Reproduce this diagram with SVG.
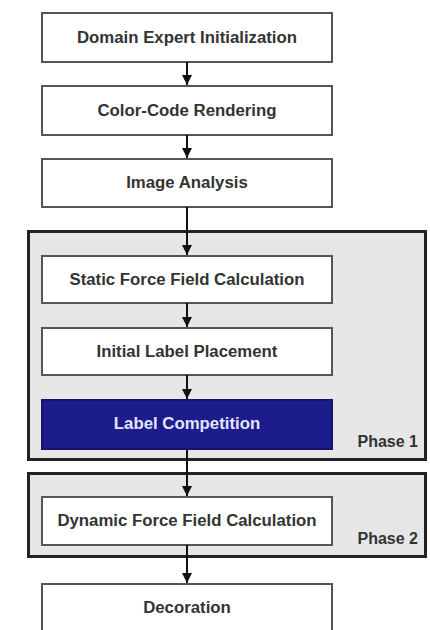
<svg xmlns="http://www.w3.org/2000/svg" width="430" height="630" viewBox="0 0 430 630">
<style>
.box{fill:#ffffff;stroke:#555555;stroke-width:2}
.phase{fill:#e6e6e6;stroke:#222222;stroke-width:3}
.t{font-family:"Liberation Sans",Arial,sans-serif;font-weight:bold;font-size:16.8px;fill:#333333;text-anchor:middle}
.pl{font-family:"Liberation Sans",Arial,sans-serif;font-weight:bold;font-size:16px;fill:#333333;text-anchor:end}
.conn{stroke:#111111;stroke-width:2;fill:none;marker-end:url(#ah)}
</style>
<defs>
<marker id="ah" viewBox="0 0 10 10" refX="10" refY="5" markerWidth="5" markerHeight="5" orient="auto" markerUnits="strokeWidth">
<path d="M0,0 L10,5 L0,10 Z" fill="#111111"/>
</marker>
</defs>
<rect width="430" height="630" fill="#ffffff"/>
<g id="phase1">
<rect class="phase" x="28.5" y="231.5" width="397" height="228"/>
<text class="pl" x="418" y="447">Phase 1</text>
</g>
<g id="phase2">
<rect class="phase" x="28.5" y="473.5" width="397" height="83"/>
<text class="pl" x="418" y="544">Phase 2</text>
</g>
<g id="n1">
<rect class="box" x="42" y="13" width="290" height="49"/>
<text class="t" x="187" y="43">Domain Expert Initialization</text>
</g>
<g id="n2">
<rect class="box" x="42" y="86" width="290" height="49"/>
<text class="t" x="187" y="116">Color-Code Rendering</text>
</g>
<g id="n3">
<rect class="box" x="42" y="159" width="290" height="48"/>
<text class="t" x="187" y="188">Image Analysis</text>
</g>
<g id="n4">
<rect class="box" x="42" y="256" width="290" height="47"/>
<text class="t" x="187" y="285">Static Force Field Calculation</text>
</g>
<g id="n5">
<rect class="box" x="42" y="328" width="290" height="47"/>
<text class="t" x="187" y="357">Initial Label Placement</text>
</g>
<g id="n6">
<rect x="42" y="400" width="290" height="49" fill="#1c1c8c" stroke="#14146a" stroke-width="2"/>
<text class="t" x="187" y="429" style="fill:#e4e4ff">Label Competition</text>
</g>
<g id="n7">
<rect class="box" x="42" y="497" width="290" height="48"/>
<text class="t" x="187" y="526">Dynamic Force Field Calculation</text>
</g>
<g id="n8">
<rect class="box" x="42" y="584" width="290" height="50"/>
<text class="t" x="187" y="613">Decoration</text>
</g>
<g id="connectors">
<line class="conn" x1="187" y1="62" x2="187" y2="85"/>
<line class="conn" x1="187" y1="135" x2="187" y2="158"/>
<line class="conn" x1="187" y1="207" x2="187" y2="255"/>
<line class="conn" x1="187" y1="303" x2="187" y2="327"/>
<line class="conn" x1="187" y1="375" x2="187" y2="399"/>
<line class="conn" x1="187" y1="449" x2="187" y2="496"/>
<line class="conn" x1="187" y1="545" x2="187" y2="583"/>
</g>
</svg>
